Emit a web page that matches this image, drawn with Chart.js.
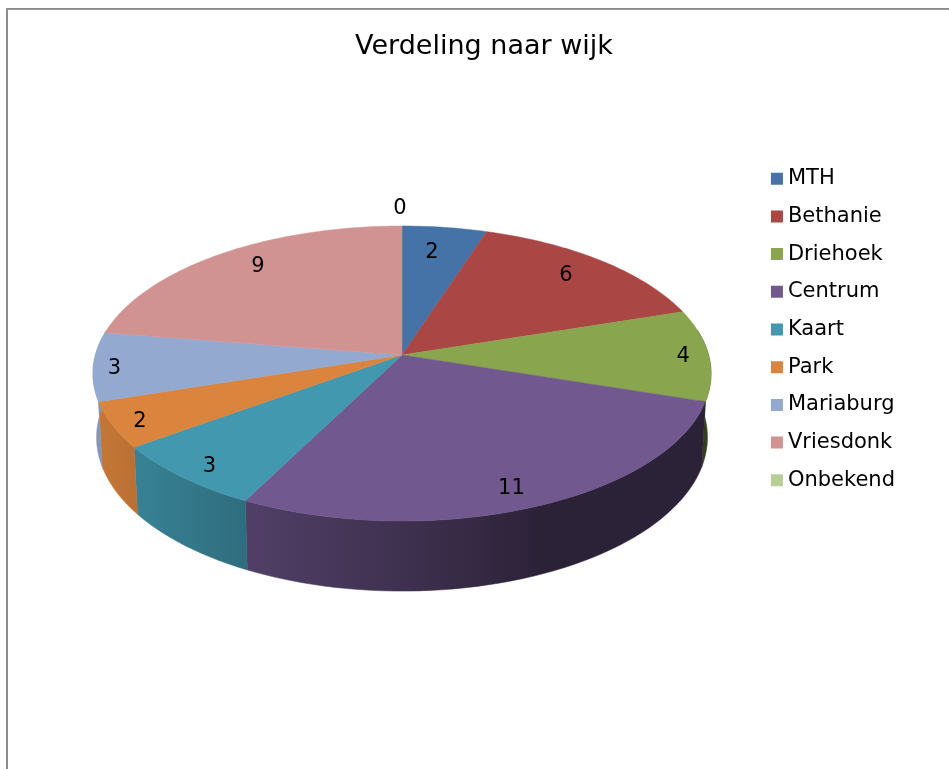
<!DOCTYPE html>
<html>
<head>
<meta charset="utf-8">
<script src="https://cdn.jsdelivr.net/npm/chart.js@4"></script>
<style>
html,body{margin:0;padding:0;background:#fff;width:949px;height:769px;overflow:hidden}
#edgeL{position:absolute;left:6px;top:8px;width:2px;height:761px;background:#8c8c8c}
#edgeT{position:absolute;left:6px;top:8px;width:943px;height:2px;background:linear-gradient(#8c8c8c 70%,#d8d8d8)}
#c{position:absolute;left:8px;top:10px}
</style>
</head>
<body>
<div id="edgeL"></div><div id="edgeT"></div>
<canvas id="c" width="952" height="759"></canvas>
<script>
const chartTitle = 'Verdeling naar wijk';
const wijken = ['MTH','Bethanie','Driehoek','Centrum','Kaart','Park','Mariaburg','Vriesdonk','Onbekend'];
const aantallen = [2,6,4,11,3,2,3,9,0];
const kleuren = ['#4572A7','#AA4643','#89A54E','#71588F','#4198AF','#DB843D','#93A9CF','#D19392','#B9CD96'];

const FONT = '"DejaVu Sans", Verdana, sans-serif';
// perspective view of the disc (canvas pixels)
const view = {cx:394, cy:345, rx:306.6, ry:145.2, a:0.1255, depth:64, shrink:0.0115};
const labelR = 0.8;
const labelNudge = [[-5,2],[2,-3],[36,2],[6,15],[-20,16],[-33,11],[-41,4],[4,-6],[-2,-41]];
const wallShade = [[95,.9],[246,.72],[400,.56],[540,.39],[720,.39]];

function project(theta, r, lower){
  const u = r*Math.sin(theta), v = -r*Math.cos(theta);
  const w = 1 - view.a*v + (lower ? view.shrink : 0);
  return {x: view.cx + view.rx*u/w, y: view.cy + (view.ry*v + (lower ? view.depth : 0))/w};
}
function shade(hex, f){
  const n = parseInt(hex.slice(1),16);
  return `rgb(${Math.round((n>>16&255)*f)},${Math.round((n>>8&255)*f)},${Math.round((n&255)*f)})`;
}
function theta(angle){ return angle + Math.PI/2; }

const pie3d = {
  id:'pie3d',
  beforeDatasetDraw(chart, args){
    const ctx = chart.ctx, arcs = chart.getDatasetMeta(args.index).data;
    const lo = 80*Math.PI/180, hi = 280*Math.PI/180;
    ctx.save();
    // side wall
    arcs.forEach((arc,i)=>{
      const s = Math.max(theta(arc.startAngle), lo), e = Math.min(theta(arc.endAngle), hi);
      if (e <= s) return;
      const g = ctx.createLinearGradient(87,0,712,0);
      wallShade.forEach(([px,f])=>g.addColorStop((px-95)/(720-95), shade(kleuren[i],f)));
      const n = Math.max(2, Math.ceil((e-s)*90/Math.PI));
      ctx.beginPath();
      for (let k=0;k<=n;k++){ const p = project(s+(e-s)*k/n,1,false); k?ctx.lineTo(p.x,p.y):ctx.moveTo(p.x,p.y); }
      for (let k=n;k>=0;k--){ const p = project(s+(e-s)*k/n,1,true); ctx.lineTo(p.x,p.y); }
      ctx.closePath();
      ctx.fillStyle = g; ctx.strokeStyle = g; ctx.lineWidth = .5;
      ctx.fill(); ctx.stroke();
    });
    // top face
    arcs.forEach((arc,i)=>{
      const s = theta(arc.startAngle), e = theta(arc.endAngle);
      if (e - s < 1e-6) return;
      const n = Math.max(2, Math.ceil((e-s)*180/Math.PI));
      const c = project(0,0,false);
      ctx.beginPath(); ctx.moveTo(c.x,c.y);
      for (let k=0;k<=n;k++){ const p = project(s+(e-s)*k/n,1,false); ctx.lineTo(p.x,p.y); }
      ctx.closePath();
      ctx.fillStyle = kleuren[i]; ctx.strokeStyle = kleuren[i]; ctx.lineWidth = .5;
      ctx.fill(); ctx.stroke();
    });
    ctx.restore();
    return false;
  },
  afterDatasetsDraw(chart){
    const ctx = chart.ctx, arcs = chart.getDatasetMeta(0).data;
    ctx.save();
    ctx.font = '21px '+FONT; ctx.fillStyle = '#000';
    ctx.textAlign = 'center'; ctx.textBaseline = 'middle';
    arcs.forEach((arc,i)=>{
      const mid = (theta(arc.startAngle)+theta(arc.endAngle))/2;
      const p = project(mid, labelR, false);
      ctx.fillText(String(aantallen[i]), p.x+labelNudge[i][0], p.y+labelNudge[i][1]);
    });
    ctx.restore();
  }
};

new Chart(document.getElementById('c'),{
  type:'pie',
  data:{labels:wijken,datasets:[{data:aantallen,backgroundColor:kleuren,borderWidth:0}]},
  plugins:[pie3d],
  options:{
    responsive:false,animation:false,
    layout:{padding:{top:0,right:55,bottom:120,left:55}},
    events:[],
    plugins:{
      tooltip:{enabled:false},
      title:{display:true,text:chartTitle,color:'#000',
        font:{family:FONT,size:27,weight:'normal'},padding:{top:21,bottom:16}},
      legend:{position:'right',labels:{
        color:'#000',font:{family:FONT,size:21},
        usePointStyle:true,pointStyle:'rect',boxWidth:1,boxHeight:12,padding:16.7}}
    }
  }
});
</script>
</body>
</html>
